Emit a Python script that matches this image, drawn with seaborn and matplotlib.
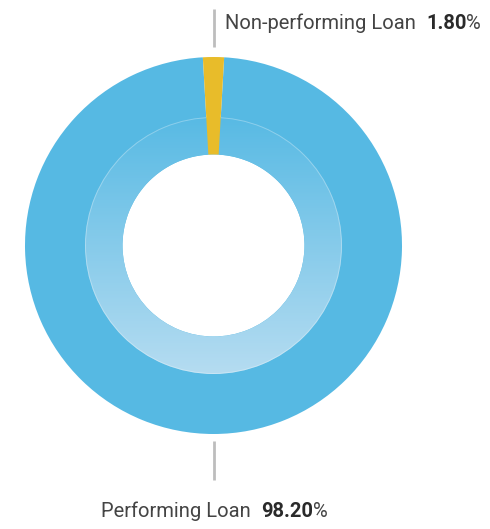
import numpy as np
import matplotlib
matplotlib.use("Agg")
import matplotlib.pyplot as plt
from matplotlib.patches import Wedge
from matplotlib.colors import LinearSegmentedColormap
import seaborn as sns

# data
categories = ["Non-performing Loan", "Performing Loan"]
shares = [1.80, 98.20]
slice_colors = ["#E8BC2A", "#56B9E3"]

sns.set_theme(style="white")
plt.rcParams["font.family"] = ["Roboto", "DejaVu Sans"]

W, H = 490, 529
fig = plt.figure(figsize=(W / 100, H / 100), dpi=100)
ax = fig.add_axes([0, 0, 1, 1])

cx, cy = 213.5, H - 245.5
r_out, r_mid, r_in = 188.5, 128.5, 91

# put the small slice centred at the top
start = 90 - shares[0] * 3.6 / 2
wedges, _ = ax.pie(shares, colors=slice_colors, startangle=start, center=(cx, cy),
                   radius=r_out, wedgeprops=dict(width=r_out - r_in, linewidth=0))
wedges[0].set_zorder(4)

# inner lighter band with a vertical gradient
ring = Wedge((cx, cy), r_mid, 0, 360, width=r_mid - r_in, transform=ax.transData,
             facecolor="none", edgecolor="none")
ax.add_patch(ring)
cmap = LinearSegmentedColormap.from_list("band", ["#58BAE4", "#B5DCF1"])
grad = np.linspace(0, 1, 256).reshape(-1, 1)
img = ax.imshow(grad, cmap=cmap, aspect="auto", origin="upper",
                extent=(cx - r_mid, cx + r_mid, cy - r_mid, cy + r_mid), zorder=3)
img.set_clip_path(ring)
ax.add_patch(Wedge((cx, cy), r_mid, 0, 360, width=1.0, facecolor="white",
                   alpha=0.3, edgecolor="none", zorder=3))

# leader lines
ax.plot([cx, cx], [H - 9, H - 47], color="#BDBDBD", lw=2, solid_capstyle="butt")
ax.plot([cx, cx], [H - 441, H - 480], color="#BDBDBD", lw=2, solid_capstyle="butt")

# labels
def label(x, y, name, value, size=14.5):
    t1 = ax.text(x, y, name + "  ", fontsize=size, color="#444444", ha="left", va="baseline")
    t2 = ax.annotate(f"{value:.2f}", xy=(1, 0), xycoords=t1, fontsize=size,
                     fontweight="bold", color="#2A2A2A", ha="left", va="bottom")
    ax.annotate("%", xy=(1, 0), xycoords=t2, fontsize=size, color="#444444",
                ha="left", va="bottom")

label(225, H - 29, categories[0], shares[0])
label(101, H - 517, categories[1], shares[1])

ax.set_xlim(0, W)
ax.set_ylim(0, H)
ax.set_aspect("equal")
ax.axis("off")
fig.savefig("out.png", dpi=100, facecolor="white")
